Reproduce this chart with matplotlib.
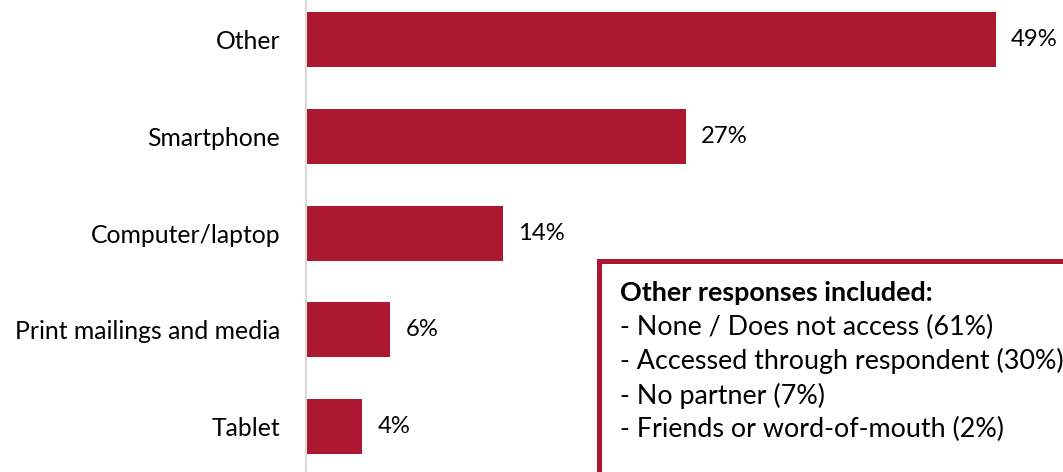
import matplotlib
matplotlib.use("Agg")
import matplotlib.pyplot as plt
from matplotlib.patches import Rectangle

categories = ["Other", "Smartphone", "Computer/laptop", "Print mailings and media", "Tablet"]
values = [49, 27, 14, 6, 4]
value_labels = ["49%", "27%", "14%", "6%", "4%"]

note_title = "Other responses included:"
note_lines = [
    "- None / Does not access (61%)",
    "- Accessed through respondent (30%)",
    "- No partner (7%)",
    "- Friends or word-of-mouth (2%)",
]

BAR_COLOR = "#AB1830"
FONT = ["Lato", "DejaVu Sans"]
W, H = 1063, 472

fig = plt.figure(figsize=(W / 100, H / 100), dpi=100)
ax_left = 306
ax = fig.add_axes([ax_left / W, 0, (W - ax_left) / W, 1])

px_per_unit = (996 - ax_left) / 49
ax.set_xlim(0, (W - ax_left) / px_per_unit)
ypos = list(range(len(categories)))
ax.set_ylim(len(categories) - 1 + 0.47, -0.41)

ax.barh(ypos, values, height=0.57, color=BAR_COLOR, edgecolor="none")

for y, v, lab in zip(ypos, values, value_labels):
    ax.annotate(lab, (v, y), xytext=(15, 0), textcoords="offset pixels",
                va="center", ha="left", fontsize=17.2, family=FONT, color="black")

ax.set_yticks(ypos)
ax.set_yticklabels(categories, family=FONT, fontsize=17.8)
ax.tick_params(axis="y", length=0, pad=18.7)
ax.set_xticks([])
for s in ["top", "right", "bottom"]:
    ax.spines[s].set_visible(False)
ax.spines["left"].set_color("#D9D9D9")
ax.spines["left"].set_linewidth(1.5)

# note box, running past the right and bottom edges
box = Rectangle((598.5 / W, -0.1), (W + 20 - 598.5) / W, (H - 260.5) / H + 0.1,
                transform=fig.transFigure, facecolor="white", edgecolor=BAR_COLOR,
                linewidth=3.6, clip_on=False)
fig.patches.append(box)

x0 = 620 / W
fig.text(x0, 1 - 293 / H, note_title, family=FONT, fontsize=19.4, fontweight="bold",
         va="center", ha="left")
for i, line in enumerate(note_lines):
    fig.text(x0, 1 - (327 + 34.3 * i) / H, line, family=FONT, fontsize=19.4,
             va="center", ha="left")

fig.savefig("out.png", dpi=100)
